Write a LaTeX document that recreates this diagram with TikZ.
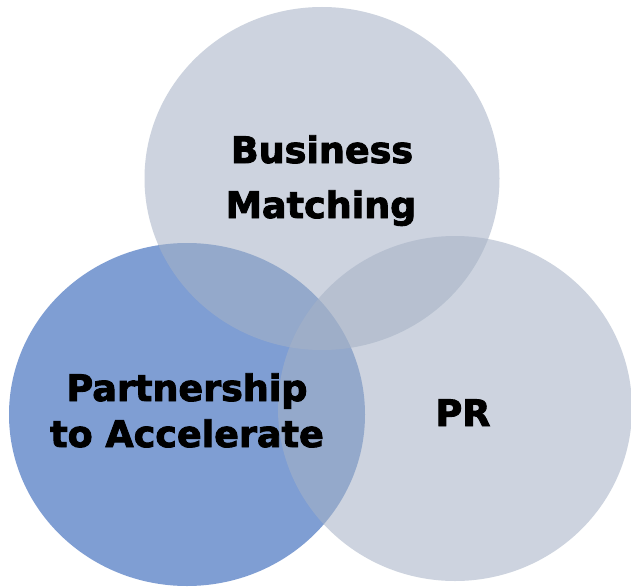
\documentclass[tikz,border=0pt]{standalone}
\usepackage{fontspec}
\newfontfamily\heavy[FakeBold=2.5]{DejaVu Sans Bold}
\definecolor{bluefill}{RGB}{127,158,211}
\definecolor{grayfill}{RGB}{166,178,198}
\tikzset{
  bluecirc/.style={fill=bluefill},
  graycirc/.style={fill=grayfill, fill opacity=0.56},
  lbl/.style={font=\heavy\fontsize{36.5}{46}\selectfont, align=center, text=black, inner sep=0pt}
}
\begin{document}
\begin{tikzpicture}[x=1pt,y=-1pt]
  \useasboundingbox (0,0) rectangle (631,586);
  \fill[white] (0,0) rectangle (631,586);
  \fill[bluecirc] (187,414.5) ellipse [x radius=178, y radius=171.5];
  \fill[graycirc] (322,178.5) ellipse [x radius=177.5, y radius=171.5];
  \fill[graycirc] (455,408.5) ellipse [x radius=177, y radius=172.5];
  \node[lbl, anchor=base] (b1) at (322,163) {Business};
  \node[lbl, anchor=base] (b2) at (321,218) {Matching};
  \node[lbl, anchor=base] (p1) at (187,401) {Partnership};
  \node[lbl, anchor=base] (p2) at (187,447) {to Accelerate};
  \node[lbl, anchor=base] (pr) at (463,426) {PR};
\end{tikzpicture}
\end{document}
